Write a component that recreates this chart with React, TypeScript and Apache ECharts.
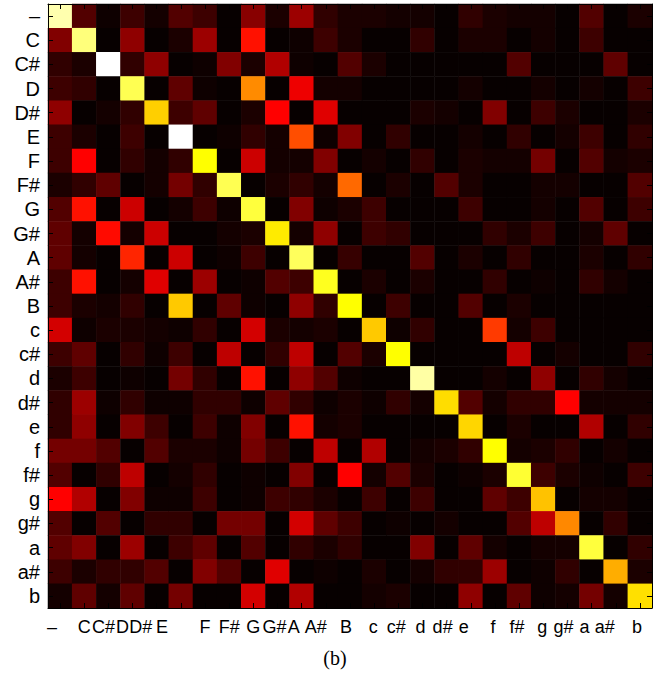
import React, { useEffect, useRef } from "react";
import * as echarts from "echarts";

// Key labels (rows top->bottom, columns left->right)
const keys = ["–", "C", "C#", "D", "D#", "E", "F", "F#", "G", "G#", "A", "A#", "B",
  "c", "c#", "d", "d#", "e", "f", "f#", "g", "g#", "a", "a#", "b"];

// Matrix rows (value on a 0..1 "hot" colour scale), one array per row key
const rowNone = [0.92, 0.12, 0.02, 0.09, 0.03, 0.12, 0.09, 0.01, 0.20, 0.04, 0.23, 0.07, 0.04, 0.04, 0.03, 0.03, 0.01, 0.07, 0.04, 0.03, 0.03, 0.01, 0.12, 0.01, 0.04];
const rowC = [0.19, 0.87, 0.01, 0.21, 0.01, 0.04, 0.23, 0.01, 0.40, 0.01, 0.02, 0.09, 0.04, 0.01, 0.01, 0.07, 0.01, 0.04, 0.04, 0.01, 0.03, 0.01, 0.09, 0.01, 0.01];
const rowCs = [0.07, 0.04, 1.00, 0.07, 0.21, 0.01, 0.02, 0.19, 0.04, 0.26, 0.02, 0.01, 0.12, 0.04, 0.01, 0.01, 0.01, 0.01, 0.01, 0.12, 0.01, 0.01, 0.01, 0.14, 0.01];
const rowD = [0.09, 0.07, 0.01, 0.83, 0.01, 0.14, 0.02, 0.01, 0.58, 0.01, 0.35, 0.03, 0.03, 0.01, 0.01, 0.01, 0.01, 0.03, 0.01, 0.01, 0.03, 0.01, 0.03, 0.01, 0.09];
const rowDs = [0.21, 0.01, 0.03, 0.07, 0.68, 0.09, 0.14, 0.01, 0.04, 0.375, 0.01, 0.33, 0.01, 0.01, 0.01, 0.04, 0.03, 0.01, 0.19, 0.01, 0.09, 0.04, 0.01, 0.01, 0.04];
const rowE = [0.09, 0.04, 0.01, 0.09, 0.01, 1.00, 0.01, 0.02, 0.07, 0.03, 0.49, 0.02, 0.19, 0.01, 0.07, 0.01, 0.01, 0.03, 0.01, 0.07, 0.01, 0.03, 0.09, 0.01, 0.07];
const rowF = [0.09, 0.375, 0.01, 0.07, 0.03, 0.07, 0.75, 0.01, 0.30, 0.03, 0.03, 0.19, 0.01, 0.03, 0.01, 0.07, 0.01, 0.04, 0.03, 0.03, 0.17, 0.01, 0.12, 0.03, 0.04];
const rowFs = [0.04, 0.07, 0.14, 0.01, 0.03, 0.17, 0.07, 0.83, 0.01, 0.04, 0.07, 0.03, 0.53, 0.01, 0.04, 0.01, 0.12, 0.04, 0.01, 0.01, 0.03, 0.03, 0.01, 0.01, 0.12];
const rowG = [0.12, 0.40, 0.01, 0.30, 0.01, 0.03, 0.09, 0.02, 0.81, 0.01, 0.19, 0.02, 0.04, 0.09, 0.01, 0.01, 0.01, 0.09, 0.01, 0.01, 0.03, 0.01, 0.12, 0.01, 0.09];
const rowGs = [0.14, 0.03, 0.39, 0.03, 0.30, 0.01, 0.01, 0.03, 0.04, 0.72, 0.03, 0.21, 0.01, 0.09, 0.07, 0.01, 0.01, 0.01, 0.07, 0.04, 0.09, 0.01, 0.03, 0.14, 0.01];
const rowA = [0.14, 0.03, 0.01, 0.43, 0.01, 0.30, 0.01, 0.02, 0.09, 0.01, 0.84, 0.01, 0.08, 0.01, 0.01, 0.12, 0.01, 0.04, 0.01, 0.07, 0.01, 0.01, 0.04, 0.01, 0.07];
const rowAs = [0.09, 0.40, 0.01, 0.03, 0.33, 0.01, 0.23, 0.01, 0.02, 0.12, 0.09, 0.78, 0.01, 0.04, 0.01, 0.04, 0.01, 0.01, 0.07, 0.01, 0.02, 0.01, 0.07, 0.03, 0.01];
const rowB = [0.09, 0.04, 0.03, 0.07, 0.01, 0.67, 0.01, 0.14, 0.02, 0.01, 0.21, 0.07, 0.75, 0.01, 0.09, 0.01, 0.01, 0.12, 0.01, 0.04, 0.01, 0.01, 0.01, 0.01, 0.01];
const rowc = [0.31, 0.02, 0.04, 0.04, 0.03, 0.02, 0.07, 0.01, 0.31, 0.04, 0.03, 0.04, 0.01, 0.67, 0.02, 0.07, 0.01, 0.01, 0.46, 0.03, 0.09, 0.01, 0.01, 0.01, 0.01];
const rowcs = [0.09, 0.14, 0.01, 0.07, 0.02, 0.09, 0.01, 0.28, 0.01, 0.07, 0.28, 0.01, 0.12, 0.04, 0.75, 0.01, 0.01, 0.01, 0.01, 0.28, 0.01, 0.03, 0.01, 0.01, 0.07];
const rowd = [0.04, 0.09, 0.01, 0.02, 0.01, 0.17, 0.07, 0.01, 0.40, 0.01, 0.21, 0.12, 0.02, 0.01, 0.01, 0.91, 0.01, 0.01, 0.03, 0.01, 0.21, 0.01, 0.07, 0.03, 0.01];
const rowds = [0.07, 0.23, 0.02, 0.07, 0.02, 0.02, 0.07, 0.07, 0.02, 0.14, 0.07, 0.02, 0.04, 0.02, 0.07, 0.03, 0.70, 0.12, 0.03, 0.07, 0.07, 0.375, 0.03, 0.03, 0.03];
const rowe = [0.07, 0.21, 0.01, 0.19, 0.09, 0.01, 0.09, 0.02, 0.19, 0.01, 0.40, 0.03, 0.04, 0.01, 0.01, 0.01, 0.01, 0.69, 0.01, 0.04, 0.01, 0.01, 0.26, 0.01, 0.07];
const rowf = [0.17, 0.17, 0.12, 0.01, 0.12, 0.04, 0.04, 0.02, 0.17, 0.09, 0.01, 0.28, 0.01, 0.26, 0.01, 0.03, 0.04, 0.07, 0.75, 0.03, 0.04, 0.07, 0.01, 0.03, 0.01];
const rowfs = [0.12, 0.01, 0.07, 0.28, 0.01, 0.03, 0.07, 0.01, 0.02, 0.01, 0.19, 0.01, 0.375, 0.03, 0.12, 0.04, 0.01, 0.02, 0.04, 0.80, 0.09, 0.04, 0.02, 0.01, 0.09];
const rowg = [0.375, 0.26, 0.01, 0.19, 0.02, 0.02, 0.09, 0.01, 0.02, 0.09, 0.07, 0.04, 0.01, 0.09, 0.01, 0.09, 0.01, 0.01, 0.14, 0.09, 0.66, 0.01, 0.03, 0.03, 0.01];
const rowgs = [0.12, 0.01, 0.12, 0.01, 0.07, 0.07, 0.01, 0.17, 0.17, 0.01, 0.31, 0.14, 0.09, 0.01, 0.02, 0.01, 0.03, 0.01, 0.01, 0.12, 0.28, 0.575, 0.01, 0.07, 0.01];
const rowa = [0.14, 0.19, 0.01, 0.23, 0.01, 0.09, 0.14, 0.01, 0.12, 0.01, 0.07, 0.04, 0.07, 0.01, 0.01, 0.19, 0.01, 0.14, 0.03, 0.01, 0.03, 0.03, 0.81, 0.01, 0.07];
const rowas = [0.09, 0.04, 0.07, 0.07, 0.12, 0.01, 0.19, 0.12, 0.01, 0.33, 0.01, 0.02, 0.01, 0.04, 0.01, 0.03, 0.07, 0.07, 0.23, 0.01, 0.02, 0.07, 0.01, 0.63, 0.04];
const rowb = [0.03, 0.14, 0.03, 0.14, 0.01, 0.17, 0.01, 0.01, 0.31, 0.01, 0.26, 0.01, 0.01, 0.03, 0.04, 0.01, 0.01, 0.21, 0.01, 0.14, 0.02, 0.03, 0.17, 0.03, 0.705];

const rows = [rowNone, rowC, rowCs, rowD, rowDs, rowE, rowF, rowFs, rowG, rowGs, rowA, rowAs, rowB,
  rowc, rowcs, rowd, rowds, rowe, rowf, rowfs, rowg, rowgs, rowa, rowas, rowb];

const caption = "(b)";

// Layout only: horizontal nudge (px) of each x tick label, as in the reference print
const xLabelShift = [-8, 0, -5, -10, -16, -19, 0, 0, 0, -3, -8, -10, -4, -1, -2, -2, -4, -7, -2, -2, -1, -4, -7, -11, -3];

const hot = ["#000000", "#550000", "#aa0000", "#ff0000", "#ff5500", "#ffaa00", "#ffff00", "#ffff80", "#ffffff"];

export default function App() {
  const ref = useRef<HTMLDivElement>(null);
  useEffect(() => {
    if (!ref.current) return;
    const chart = echarts.init(ref.current, undefined, { renderer: "svg" });
    const data: number[][] = [];
    rows.forEach((row, y) => row.forEach((v, x) => data.push([x, y, v])));
    const font = "Liberation Sans";
    const rich: Record<string, any> = {};
    xLabelShift.forEach((dx, i) => {
      rich["o" + i] = {
        fontSize: 18,
        fontFamily: font,
        color: "#000",
        padding: dx < 0 ? [0, -2 * dx, 0, 0] : [0, 0, 0, 2 * dx],
      };
    });
    const tick = { show: true, inside: true, length: 5, alignWithLabel: true, interval: 0, lineStyle: { color: "#000", width: 1 } };
    const line = { show: true, onZero: false, lineStyle: { color: "#000", width: 1 } };
    chart.setOption({
      animation: false,
      backgroundColor: "#fff",
      grid: { left: 48, top: 4, width: 604, height: 604 },
      xAxis: [
        {
          type: "category",
          data: keys,
          position: "bottom",
          z: 5,
          axisLine: line,
          axisTick: tick,
          splitLine: { show: false },
          axisLabel: {
            interval: 0,
            margin: 10,
            formatter: (v: string, i: number) => `{o${i}|${v}}`,
            rich,
          },
        },
        {
          type: "category",
          data: keys,
          position: "top",
          z: 5,
          axisLine: line,
          axisTick: tick,
          axisLabel: { show: false },
        },
      ],
      yAxis: [
        {
          type: "category",
          data: keys,
          inverse: true,
          position: "left",
          z: 5,
          axisLine: line,
          axisTick: tick,
          splitLine: { show: false },
          axisLabel: { interval: 0, margin: 8, fontSize: 20, fontFamily: font, color: "#000" },
        },
        {
          type: "category",
          data: keys,
          inverse: true,
          position: "right",
          z: 5,
          axisLine: line,
          axisTick: tick,
          axisLabel: { show: false },
        },
      ],
      visualMap: {
        show: false,
        type: "continuous",
        min: 0,
        max: 1,
        dimension: 2,
        inRange: { color: hot },
      },
      series: [
        {
          type: "heatmap",
          data,
          xAxisIndex: 0,
          yAxisIndex: 0,
          itemStyle: { borderWidth: 0 },
          emphasis: { disabled: true },
          z: 1,
        },
      ],
      graphic: [
        {
          type: "text",
          left: "center",
          top: 648,
          style: { text: caption, font: '20px "Liberation Serif"', fill: "#000" },
        },
      ],
    });
    return () => chart.dispose();
  }, []);
  return <div ref={ref} style={{ position: "absolute", left: 0, top: 0, width: 670, height: 675 }} />;
}
